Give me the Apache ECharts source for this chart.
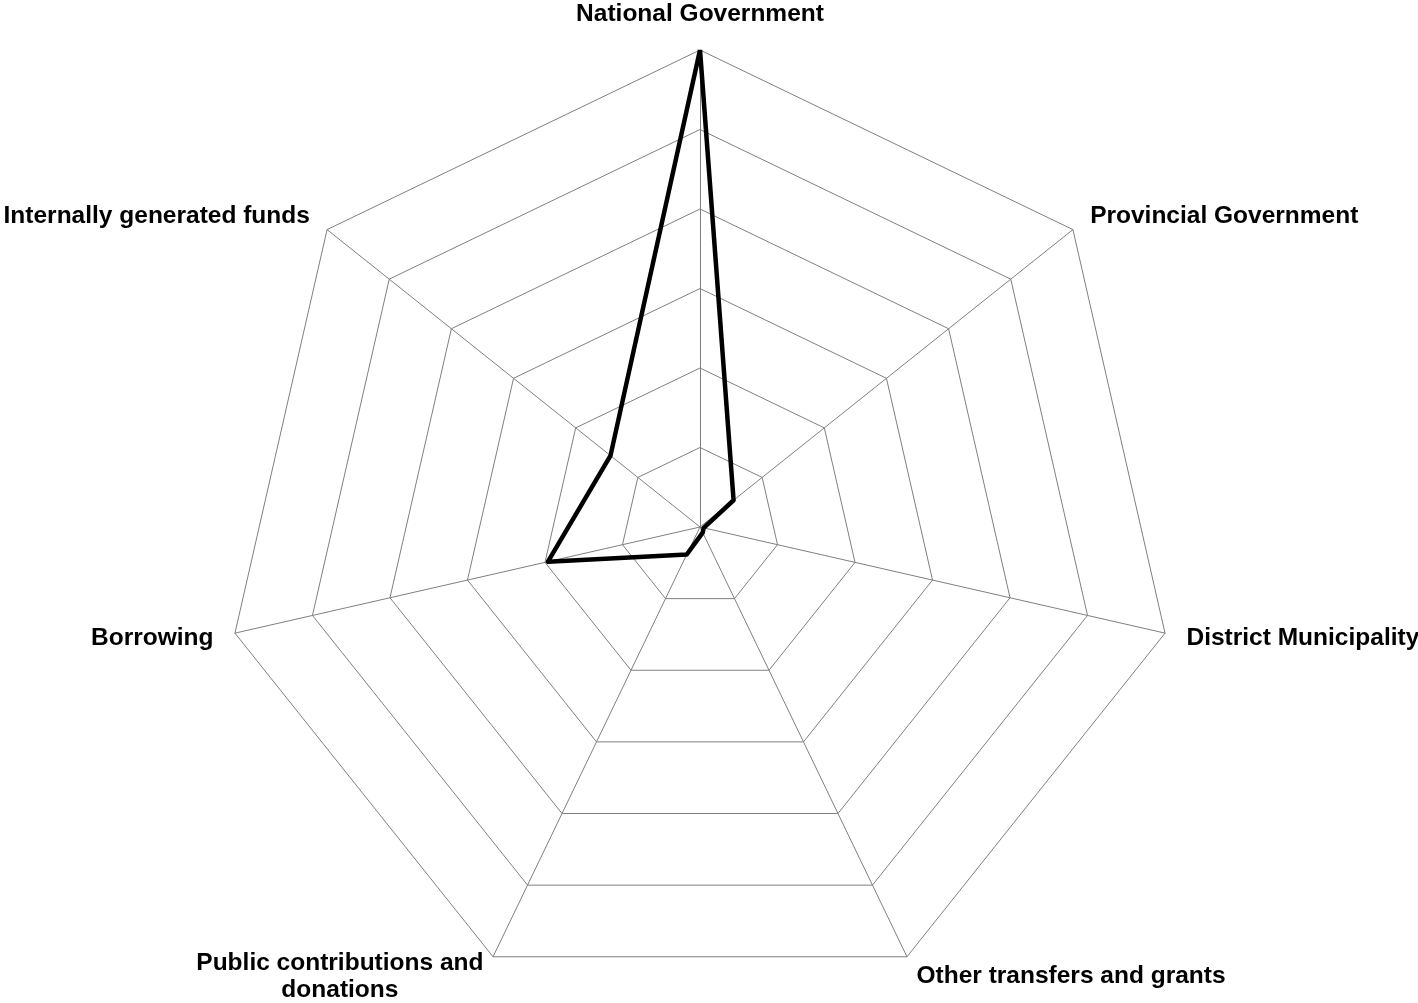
<!DOCTYPE html>
<html>
<head>
<meta charset="utf-8">
<style>
  html, body { margin: 0; padding: 0; background: #ffffff; }
  #chart { width: 1418px; height: 1003px; }
</style>
<script src="https://cdn.jsdelivr.net/npm/echarts@6/dist/echarts.min.js"></script>
</head>
<body>
<div id="chart"></div>
<script>
// Categories in clockwise order starting from the top
const categories = [
  'National Government',
  'Provincial Government',
  'District Municipality',
  'Other transfers and grants',
  'Public contributions and\ndonations',
  'Borrowing',
  'Internally generated funds'
];
const seriesValues = [100, 9, 0.8, 1.3, 6.4, 32.7, 24];
const axisMax = 100;

// ECharts lays radar indicators counter-clockwise; reorder so they run clockwise
const order = [0].concat(categories.map((_, i) => i).slice(1).reverse());
const indicators = order.map(i => ({ name: categories[i], max: axisMax, min: 0 }));
const values = order.map(i => seriesValues[i]);

const chart = echarts.init(document.getElementById('chart'), null, { renderer: 'canvas' });
chart.setOption({
  animation: false,
  backgroundColor: '#ffffff',
  radar: {
    center: [700, 527],
    radius: 477,
    startAngle: 90,
    shape: 'polygon',
    splitNumber: 6,
    nameGap: 22,
    indicator: indicators,
    axisName: {
      color: '#000000',
      fontFamily: 'Liberation Sans, Arial, sans-serif',
      fontWeight: 'bold',
      fontSize: 24.5,
      lineHeight: 27,
      formatter: function (name) {
        return name.split('\n').map(s => '{c|' + s + '}').join('\n');
      },
      rich: {
        c: {
          color: '#000000',
          fontFamily: 'Liberation Sans, Arial, sans-serif',
          fontWeight: 'bold',
          fontSize: 24.5,
          lineHeight: 27,
          align: 'center'
        }
      }
    },
    axisLine: { show: true, lineStyle: { color: '#808080', width: 1 } },
    splitLine: { show: true, lineStyle: { color: '#808080', width: 1 } },
    splitArea: { show: false },
    axisTick: { show: false },
    axisLabel: { show: false }
  },
  series: [{
    type: 'radar',
    symbol: 'none',
    lineStyle: { color: '#000000', width: 4.5 },
    itemStyle: { color: '#000000' },
    data: [{ value: values, name: 'Sources' }]
  }]
});
</script>
</body>
</html>
